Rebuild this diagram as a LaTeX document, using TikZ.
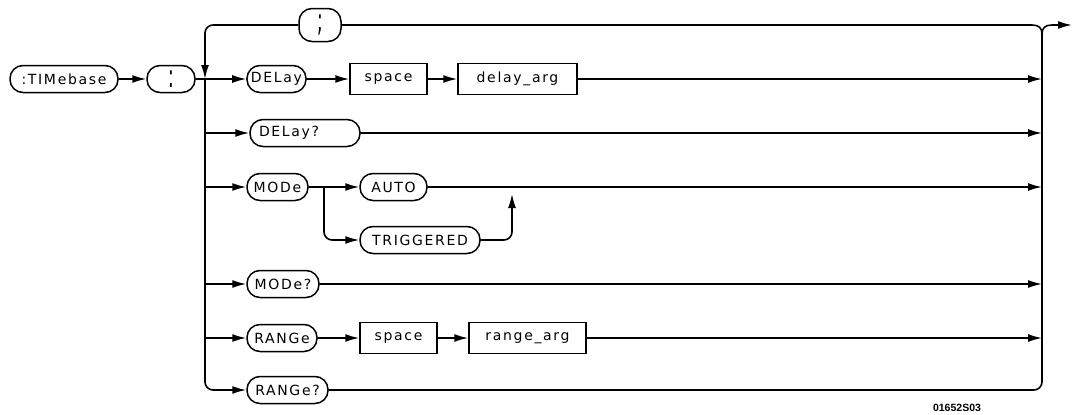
\documentclass[tikz,border=0pt]{standalone}
\usepackage{fontspec}
\usepackage{graphicx}
\setmainfont{DejaVu Sans}[LetterSpace=12]
\newfontfamily\idfont{Liberation Sans}
\newfontfamily\punctfont{DejaVu Sans}
\usetikzlibrary{arrows.meta}
\newcommand\dgmfont{\fontsize{14}{16}\selectfont}
\newcommand\bigpunct[1]{\raisebox{-0.6ex}{\scalebox{1}[1.9]{\punctfont\fontsize{17}{18}\selectfont #1}}}
\begin{document}
\begin{tikzpicture}[x=1pt,y=-1pt,
  ln/.style={line width=1.6pt},
  arr/.style={ln,-{Latex[length=14pt,width=8pt]}},
  term/.style={draw,line width=1.5pt,rounded corners=13pt,minimum height=27pt,inner xsep=4pt,inner ysep=0pt,font=\dgmfont},
  argbox/.style={draw,line width=1.5pt,minimum height=31pt,inner xsep=4pt,inner ysep=0pt,font=\dgmfont},
  rc/.style={rounded corners=8pt}]
\useasboundingbox (0,0) rectangle (1072,415);
% nodes
\node[term,minimum width=108pt] (tim) at (64,79) {:TIMebase};
\node[term,minimum width=48pt] (col) at (171,79) {\bigpunct{:}};
\node[term,minimum width=42pt,minimum height=33pt] (semi) at (320,25) {\bigpunct{;}};
\node[term,minimum width=57pt] (delay) at (276.5,79) {DELay};
\node[argbox,minimum width=77pt] (sp1) at (388.5,79) {space};
\node[argbox,minimum width=119pt] (darg) at (517.5,79) {delay\_arg};
\node[term,text width=92pt,align=left,inner xsep=9pt] (delayq) at (305,133) {DELay?};
\node[term,minimum width=61pt] (mode) at (277.5,187) {MODe};
\node[term,minimum width=67pt] (auto) at (393.5,187) {AUTO};
\node[term,minimum width=120pt] (trig) at (420,240) {TRIGGERED};
\node[term,minimum width=72pt] (modeq) at (283,284) {MODe?};
\node[term,minimum width=70pt] (range) at (282,338) {RANGe};
\node[argbox,minimum width=77pt] (sp2) at (398.5,338) {space};
\node[argbox,minimum width=117pt] (rarg) at (527.5,338) {range\_arg};
\node[term,minimum width=81pt] (rangeq) at (287.5,390) {RANGe?};
\node[font=\idfont\bfseries\fontsize{10.5}{12}\selectfont,inner sep=0pt] (fig) at (957,408) {01652S03};
% coordinates
\coordinate (lt) at (205,25);
\coordinate (j1) at (205,79);
\coordinate (b2) at (205,133);
\coordinate (b3) at (205,187);
\coordinate (b4) at (205,284);
\coordinate (b5) at (205,338);
\coordinate (lb) at (205,390);
\coordinate (lb2) at (217,390);
\coordinate (r1) at (1042,79);
\coordinate (r2) at (1042,133);
\coordinate (r3) at (1042,187);
\coordinate (r4) at (1042,284);
\coordinate (r5) at (1042,338);
\coordinate (rb) at (1042,390);
\coordinate (rt) at (1042,34);
\coordinate (out) at (1072,25);
\coordinate (br) at (324,187);
\coordinate (mj) at (512,194);
% left side
\draw[arr] (tim) -- (col);
\draw[ln] (col.east) -- (j1);
\draw[arr,rc] (semi.west) -- (lt) -- (j1);
\draw[ln,rc] (j1) -- (lb) -- (lb2);
\draw[arr] (lb2) -- (rangeq.west);
\draw[arr] (j1) -- (delay);
\draw[arr] (b2) -- (delayq);
\draw[arr] (b3) -- (mode);
\draw[arr] (b4) -- (modeq);
\draw[arr] (b5) -- (range);
% row contents
\draw[arr] (delay) -- (sp1);
\draw[arr] (sp1) -- (darg);
\draw[arr] (mode) -- (auto);
\draw[arr,rc] (br) |- (trig.west);
\draw[arr,rc] (trig.east) -| (mj);
\draw[arr] (range) -- (sp2);
\draw[arr] (sp2) -- (rarg);
% right side
\draw[arr] (darg) -- (r1);
\draw[arr] (delayq) -- (r2);
\draw[arr] (auto) -- (r3);
\draw[arr] (modeq) -- (r4);
\draw[arr] (rarg) -- (r5);
\draw[ln,rc] (rangeq.east) -- (rb) -- (rt);
\draw[ln] (semi.east) -- (1032,25) .. controls (1039,25) and (1042,28) .. (rt);
\draw[arr] (rt) .. controls (1042,28) and (1045,25) .. (1052,25) -- (out);
\end{tikzpicture}
\end{document}
